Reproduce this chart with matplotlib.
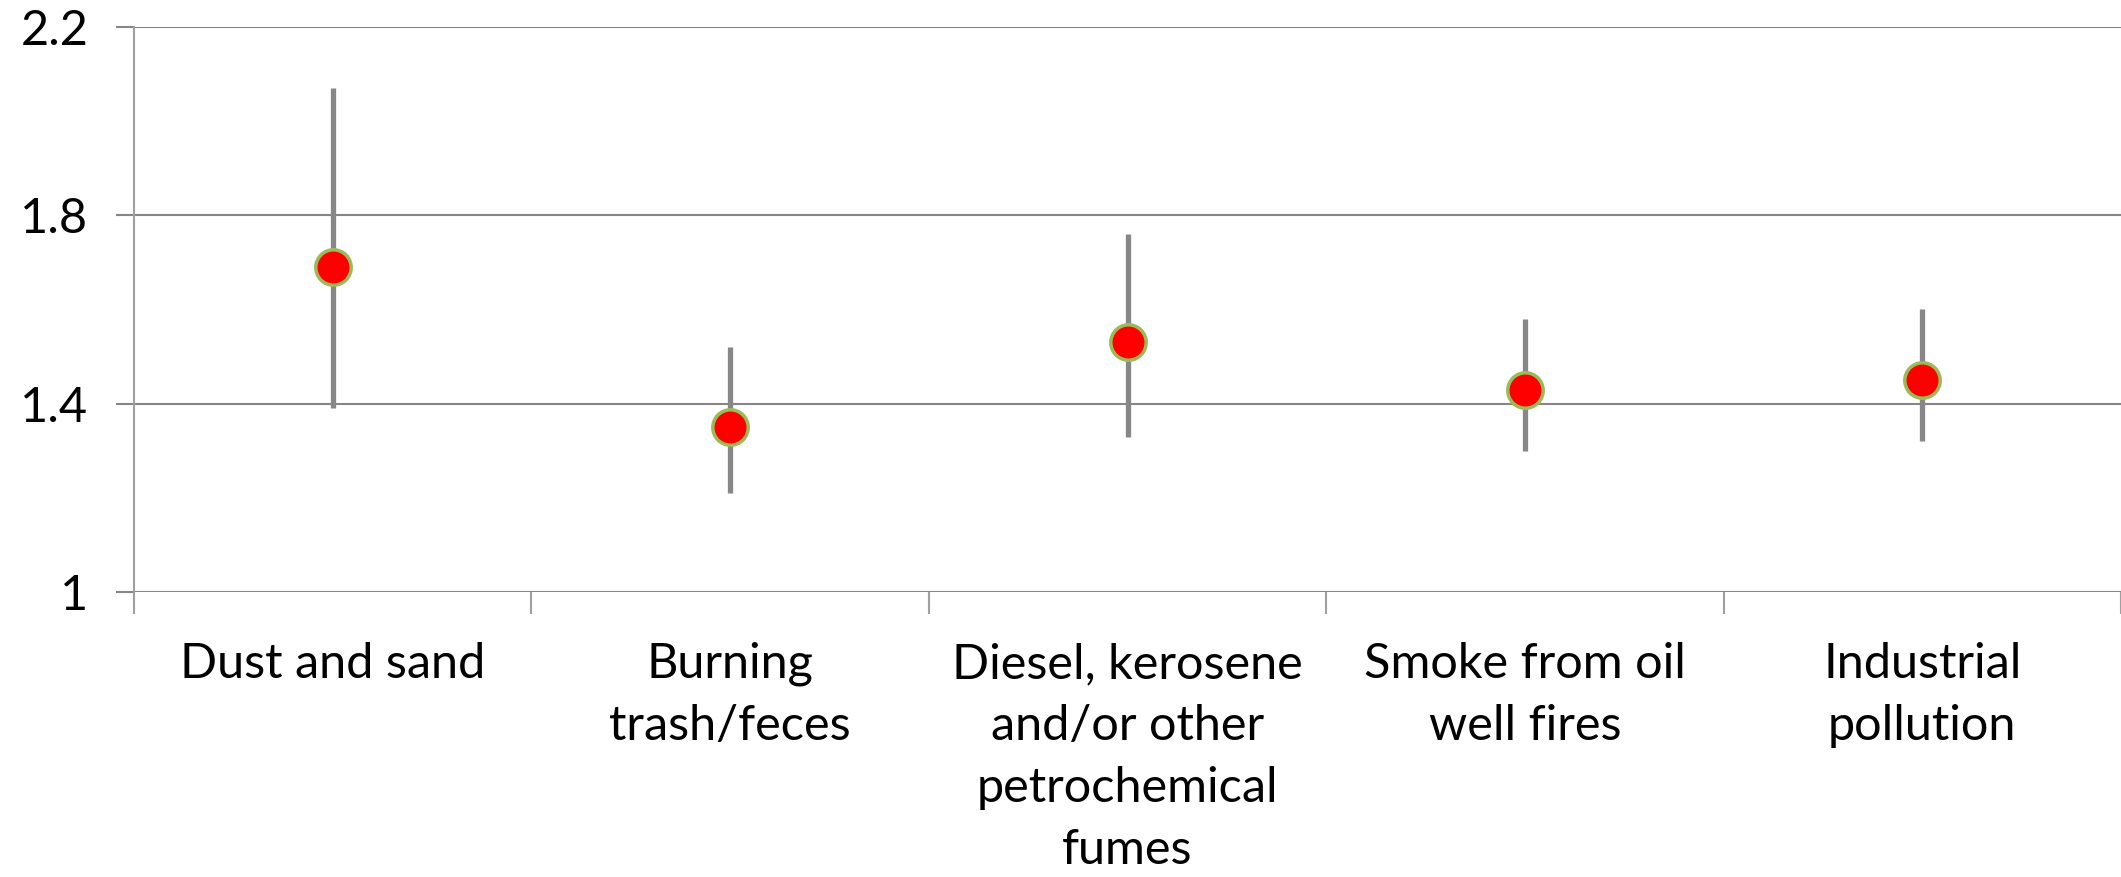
import numpy as np
import matplotlib
matplotlib.use("Agg")
import matplotlib.pyplot as plt

plt.rcParams['font.family'] = ['Lato', 'DejaVu Sans']

categories = ["Dust and sand", "Burning\ntrash/feces",
              "Diesel, kerosene\nand/or other\npetrochemical\nfumes",
              "Smoke from oil\nwell fires", "Industrial\npollution"]
estimate = [1.69, 1.35, 1.53, 1.43, 1.45]
lower = [1.39, 1.21, 1.33, 1.30, 1.32]
upper = [2.07, 1.52, 1.76, 1.58, 1.60]

grey = "#878787"

fig = plt.figure(figsize=(21.21, 8.77), dpi=100)
ax = fig.add_axes([0.0632, 0.325, 0.9368, 0.6442])

x = np.arange(len(categories))
est = np.array(estimate)
yerr = [est - np.array(lower), np.array(upper) - est]

ax.errorbar(x, est, yerr=yerr, fmt="none", ecolor=grey, elinewidth=3.8,
            capsize=0, zorder=3)
ax.plot(x, est, "o", color="#FF0000", markersize=25.5, markeredgecolor="#9BBB59",
        markeredgewidth=2.5, linestyle="none", zorder=4)

ax.set_xlim(-0.5, len(categories) - 0.5)
ax.set_ylim(1, 2.2)
ax.set_yticks([1, 1.4, 1.8, 2.2])
ax.set_yticklabels(["1", "1.4", "1.8", "2.2"])
ax.yaxis.grid(True, color="#868686", linewidth=1.5)
ax.set_axisbelow(True)

# category boundaries as major ticks, names as minor ticks
ax.set_xticks(np.arange(-0.5, len(categories)))
ax.set_xticklabels([])
ax.set_xticks(x, minor=True)
ax.set_xticklabels(categories, minor=True, fontsize=35, linespacing=1.5)
ax.tick_params(axis="x", which="major", length=16, width=1.5, color="#a0a0a0")
ax.tick_params(axis="x", which="minor", length=0, pad=36)
ax.tick_params(axis="y", length=13, width=1.5, color="#868686", labelsize=35, pad=20)

for s in ["top", "right", "bottom"]:
    ax.spines[s].set_visible(False)
ax.spines["left"].set_color("#a0a0a0")
ax.spines["left"].set_linewidth(1.5)

fig.savefig("out.png", dpi=100)
